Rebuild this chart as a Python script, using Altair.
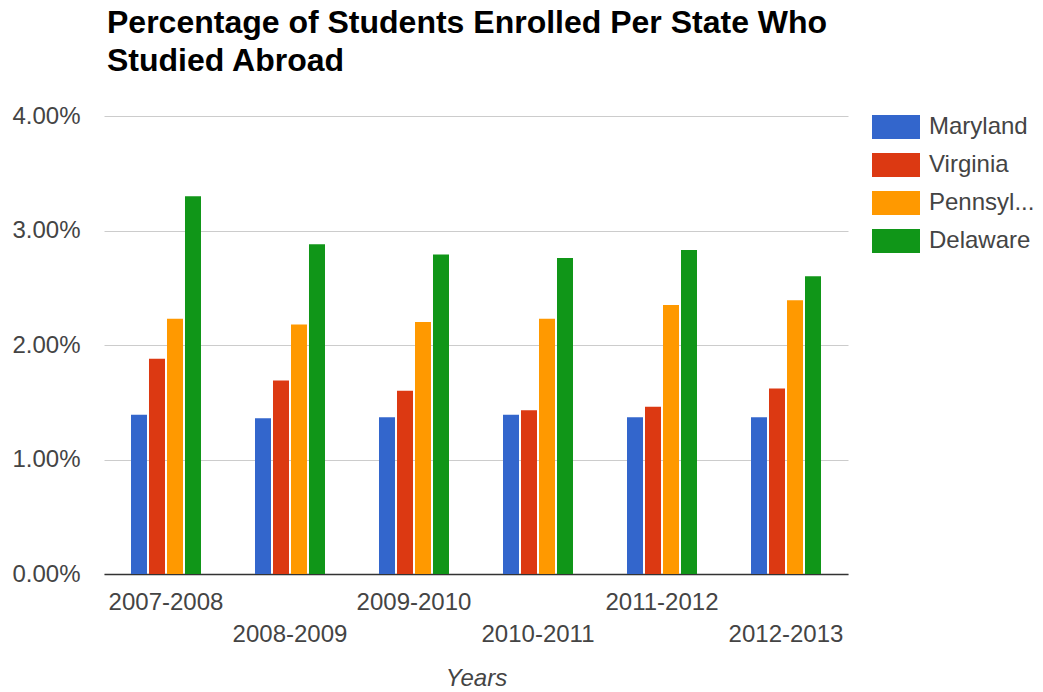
import altair as alt
import pandas as pd

years = ["2007-2008", "2008-2009", "2009-2010", "2010-2011", "2011-2012", "2012-2013"]
states = ["Maryland", "Virginia", "Pennsylvania", "Delaware"]
maryland = [1.39, 1.36, 1.37, 1.39, 1.37, 1.37]
virginia = [1.88, 1.69, 1.60, 1.43, 1.46, 1.62]
pennsylvania = [2.23, 2.18, 2.20, 2.23, 2.35, 2.39]
delaware = [3.30, 2.88, 2.79, 2.76, 2.83, 2.60]
colors = ["#3366cc", "#dc3912", "#ff9900", "#109618"]
staggered = ["2008-2009", "2010-2011", "2012-2013"]

rows = []
for st, vals in zip(states, [maryland, virginia, pennsylvania, delaware]):
    for y, v in zip(years, vals):
        rows.append({"Year": y, "State": st, "Pct": v / 100.0})
df = pd.DataFrame(rows)

stag_list = "[" + ",".join("'" + s + "'" for s in staggered) + "]"

FONT = "Liberation Sans"

chart = alt.Chart(df).mark_bar().encode(
    x=alt.X(
        "Year:N",
        sort=years,
        scale=alt.Scale(paddingInner=0.4355, paddingOuter=0.2177),
        axis=alt.Axis(
            title="Years",
            titleFont=FONT,
            titleFontSize=24,
            titleFontStyle="italic",
            titleFontWeight="normal",
            titleColor="#444444",
            titlePadding=20,
            labelAngle=0,
            labelFont=FONT,
            labelFontSize=24,
            labelColor="#444444",
            labelPadding=16,
            labelLineHeight=32,
            labelBaseline="top",
            labelExpr=f"indexof({stag_list}, datum.value) >= 0 ? ['', datum.label] : datum.label",
            ticks=False,
            grid=False,
            domainColor="#333333",
            domainWidth=1.5,
        ),
    ),
    xOffset=alt.XOffset("State:N", sort=states,
                        scale=alt.Scale(paddingInner=0.111, paddingOuter=0)),
    y=alt.Y(
        "Pct:Q",
        scale=alt.Scale(domain=[0, 0.04]),
        axis=alt.Axis(
            title=None,
            format=".2%",
            values=[0, 0.01, 0.02, 0.03, 0.04],
            labelFont=FONT,
            labelFontSize=24,
            labelColor="#444444",
            labelPadding=24,
            ticks=False,
            domain=False,
            gridColor="#cccccc",
            gridWidth=1,
        ),
    ),
    color=alt.Color(
        "State:N",
        sort=states,
        scale=alt.Scale(domain=states, range=colors),
        legend=alt.Legend(
            title=None,
            orient="none",
            legendX=780,
            legendY=-1,
            padding=0,
            symbolType="M-2,-1h4v2h-4z",
            symbolSize=576,
            symbolStrokeWidth=0,
            symbolOpacity=1,
            labelFont=FONT,
            labelFontSize=24,
            labelColor="#444444",
            labelOffset=21,
            rowPadding=14,
            labelExpr="datum.label == 'Pennsylvania' ? 'Pennsyl...' : datum.label",
        ),
    ),
).properties(
    width=744,
    height=458,
    title=alt.TitleParams(
        text=["Percentage of Students Enrolled Per State Who", "Studied Abroad"],
        anchor="start",
        frame="group",
        font=FONT,
        fontSize=32,
        fontWeight="bold",
        color="#000000",
        lineHeight=38,
        baseline="top",
        offset=26,
        dx=3,
    ),
    autosize=alt.AutoSizeParams(type="none"),
    padding={"left": 104, "top": 116, "right": 195, "bottom": 118},
).configure(
    background="white",
    view=alt.ViewConfig(strokeWidth=0, stroke="transparent"),
)

chart.save("out.html", embed_options={"renderer": "svg", "actions": False})
